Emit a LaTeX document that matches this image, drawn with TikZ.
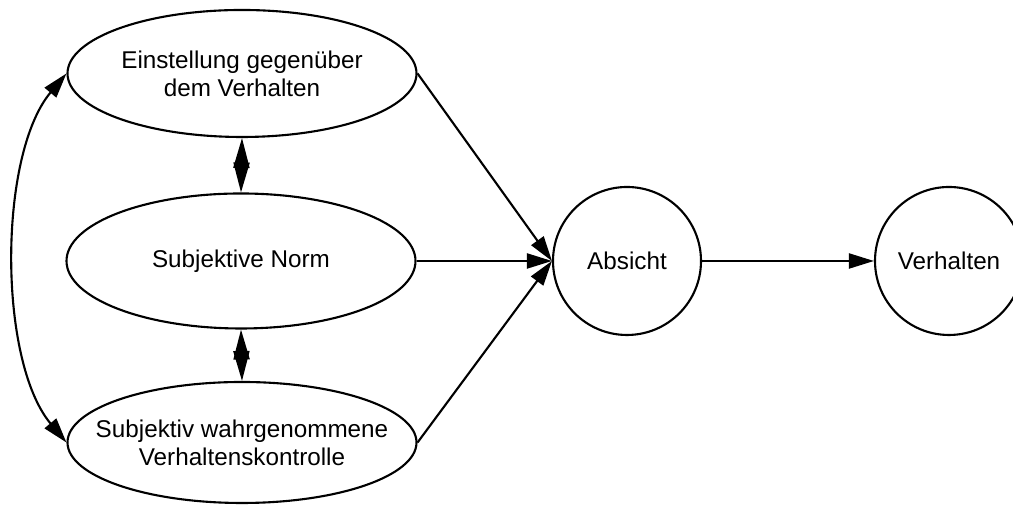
\documentclass[tikz,border=0pt]{standalone}
\usepackage{fontspec}
\setmainfont{Liberation Sans}
\usetikzlibrary{arrows.meta,shapes.geometric}

\begin{document}
\begin{tikzpicture}[
	line width=0.6pt,
	>={Triangle[length=2.5mm, width=1.5mm]},
	every node/.style={font=\fontsize{6.9}{8}\selectfont, align=center},
	oval/.style={draw, ellipse, inner xsep=-3mm, inner ysep=0pt, minimum width=3.49cm},
	kreis/.style={draw, circle, inner sep=0pt, minimum size=1.48cm},
	doppelt/.style={{Triangle[length=3mm, width=1.6mm]}-{Triangle[length=3mm, width=1.6mm]}}
]
	\useasboundingbox (0, 0) rectangle (10.13, 5.09);

	\node[oval, minimum height=1.27cm] (einst) at (2.42, 4.355) {Einstellung gegenüber\\dem Verhalten};
	\node[oval, minimum height=1.35cm] (norm) at (2.41, 2.48) {Subjektive Norm};
	\node[oval, minimum height=1.21cm] (kontr) at (2.42, 0.665) {Subjektiv wahrgenommene\\Verhaltenskontrolle};

	\node[kreis] (absicht) at (6.27, 2.48) {Absicht};
	\node[kreis] (verhalten) at (9.49, 2.48) {Verhalten};

	\draw[doppelt] (einst.south) -- (norm.north);
	\draw[doppelt] (norm.south) -- (kontr.north);
	\draw[<->] (einst.west) to[out=230, in=130, looseness=0.74] (kontr.west);

	\draw[->] (einst.east) -- (absicht.west);
	\draw[->] (norm.east) -- (absicht.west);
	\draw[->] (kontr.east) -- (absicht.west);
	\draw[->] (absicht.east) -- (verhalten.west);

\end{tikzpicture}
\end{document}
